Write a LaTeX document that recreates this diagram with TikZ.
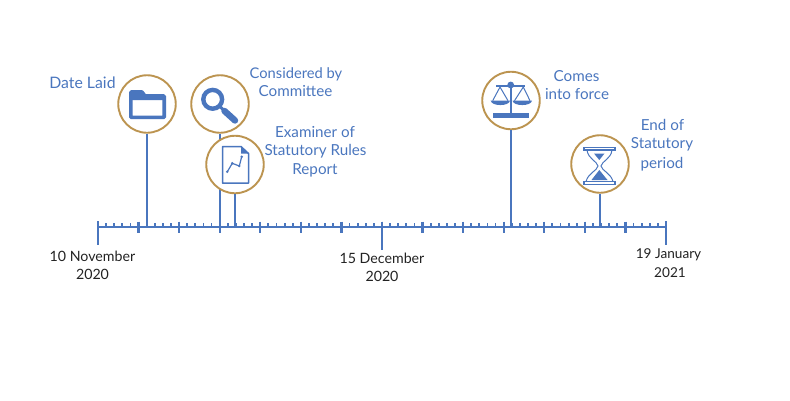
\documentclass[tikz,border=0pt]{standalone}
\usepackage{fontspec}
\setmainfont{Lato}
\definecolor{axisblue}{HTML}{4A76BE}
\definecolor{ringgold}{HTML}{BC9450}
\definecolor{datetext}{HTML}{222222}
\tikzset{
  ring/.style={circle,draw=ringgold,line width=1.9pt,fill=white,minimum size=57.5pt,inner sep=0pt},
  stem/.style={draw=axisblue,line width=2.7pt},
  axisline/.style={draw=axisblue,line width=2.6pt},
  majortick/.style={draw=axisblue,line width=2.4pt},
  minortick/.style={draw=axisblue,line width=1.8pt},
  bluelabel/.style={text=axisblue,font=\fontsize{15.2}{18}\selectfont,align=center,inner sep=0pt},
  datelabel/.style={text=datetext,font=\fontsize{14.2}{18}\selectfont,align=center,inner sep=0pt},
  icon/.style={draw=axisblue,line width=1.5pt,line join=round}
}
\begin{document}
\begin{tikzpicture}[x=1pt,y=-1pt]
\useasboundingbox (0,0) rectangle (790,400);
% axis
\coordinate (axL) at (98,227);
\coordinate (axR) at (666,227);
\draw[axisline] (axL) -- (axR);
\foreach \k in {0,...,70}{
  \draw[minortick] ({98+\k*8.114},223) -- ({98+\k*8.114},227);
}
\foreach \k in {1,...,13}{
  \draw[majortick] ({98+\k*40.571},221.5) -- ({98+\k*40.571},233);
}
\draw[majortick] (98,221) -- (98,245);
\draw[majortick] (666,221) -- (666,245);
\draw[majortick] (382,221.5) -- (382,250);
% stems
\coordinate (a1) at (147,227);
\coordinate (a2) at (220,227);
\coordinate (a3) at (235,227);
\coordinate (a4) at (511,227);
\coordinate (a5) at (600,227);
\node[ring] (folder) at (147,104) {};
\node[ring] (lens) at (220,104) {};
\draw[stem] (folder) -- (a1);
\draw[stem] (lens) -- (a2);
\node[ring] (chart) at (235,164.5) {};
\node[ring] (scales) at (511,100.5) {};
\node[ring] (glass) at (600,164) {};
\draw[stem] (chart) -- (a3);
\draw[stem] (scales) -- (a4);
\draw[stem] (glass) -- (a5);
% folder icon
\draw[draw=axisblue,line width=3.6pt,line join=round]
  (130.8,92) -- (142,92) -- (145,96) -- (164.2,96) -- (164.2,117.3) -- (130.8,117.3) -- cycle;
\fill[axisblue] (130,91) -- (142,91) -- (146,95) -- (165,95) -- (165,100) -- (130,100) -- cycle;
% magnifier icon
\draw[draw=axisblue,line width=4.4pt] (212.7,99.3) circle (9.4);
\draw[draw=axisblue,line width=3pt] (219.5,106) -- (224,110.5);
\draw[draw=axisblue,line width=6.4pt,line cap=round] (224.5,111) -- (235,120.5);
% chart icon
\draw[icon] (222.5,146.5) -- (241,146.5) -- (248.5,153.5) -- (248.5,183) -- (222.5,183) -- cycle;
\fill[axisblue] (241,146.5) -- (248.5,153.5) -- (241,153.5) -- cycle;
\draw[draw=axisblue,line width=1.2pt] (227.3,171.7) -- (232.3,163.3) -- (239.3,166) -- (241.7,156.7);
\foreach \p in {(227.3,171.7),(232.3,163.3),(239.3,166),(241.7,156.7)}{\fill[axisblue] \p circle (1.4);}
% scales icon
\draw[draw=axisblue,line width=2.4pt] (496,86) -- (525,86);
\draw[draw=axisblue,line width=2.4pt] (510.7,85) -- (510.7,114);
\fill[axisblue] (510.7,85) circle (3.4);
\fill[axisblue] (492.7,113.3) rectangle (529.3,118.3);
\fill[axisblue] (490.7,100.7) -- (510,100.7) .. controls (509,106.5) and (491.7,106.5) .. cycle;
\fill[axisblue] (512.5,100.7) -- (532,100.7) .. controls (531,106.5) and (513.5,106.5) .. cycle;
\draw[draw=axisblue,line width=1pt] (492.7,100.7) -- (500,87) -- (508,100.7);
\draw[draw=axisblue,line width=1pt] (514.5,100.7) -- (523.3,87) -- (530,100.7);
% hourglass icon
\draw[draw=axisblue,line width=1.1pt] (584,147.4) rectangle (615,150);
\draw[draw=axisblue,line width=1.1pt] (584,181.7) rectangle (615,184.3);
\draw[draw=axisblue,line width=1pt]
  (587,150) .. controls (588,159) and (597,161) .. (598,166) .. controls (597,171) and (588,173) .. (586,181.7);
\draw[draw=axisblue,line width=1pt]
  (612,150) .. controls (611,159) and (602,161) .. (601,166) .. controls (602,171) and (611,173) .. (613,181.7);
\fill[axisblue] (594,153.5) -- (604.5,153.5) -- (599.3,160) -- cycle;
\fill[axisblue] (591.5,180) -- (607.5,180) -- (599.3,170) -- cycle;
% labels
\node[bluelabel,font=\fontsize{15.8}{18}\selectfont] (t1) at (82.5,83) {Date Laid};
\node[bluelabel,font=\fontsize{14.7}{18}\selectfont] (t2a) at (296,74) {Considered by};
\node[bluelabel] (t2b) at (295.5,91) {Committee};
\node[bluelabel] (t3a) at (315,132) {Examiner of};
\node[bluelabel] (t3b) at (315.5,151) {Statutory Rules};
\node[bluelabel] (t3c) at (315,170) {Report};
\node[bluelabel] (t4a) at (576.5,76) {Comes};
\node[bluelabel] (t4b) at (577,94) {into force};
\node[bluelabel] (t5a) at (662.5,125) {End of};
\node[bluelabel] (t5b) at (662,144) {Statutory};
\node[bluelabel] (t5c) at (662,164) {period};
\node[datelabel] (d1a) at (92.5,256) {10 November};
\node[datelabel] (d1b) at (92.5,274) {2020};
\node[datelabel] (d2a) at (382,258) {15 December};
\node[datelabel] (d2b) at (382,276) {2020};
\node[datelabel,font=\fontsize{13.6}{18}\selectfont] (d3a) at (668.5,255) {19 January};
\node[datelabel,font=\fontsize{13.6}{18}\selectfont] (d3b) at (670,273) {2021};
\end{tikzpicture}
\end{document}
